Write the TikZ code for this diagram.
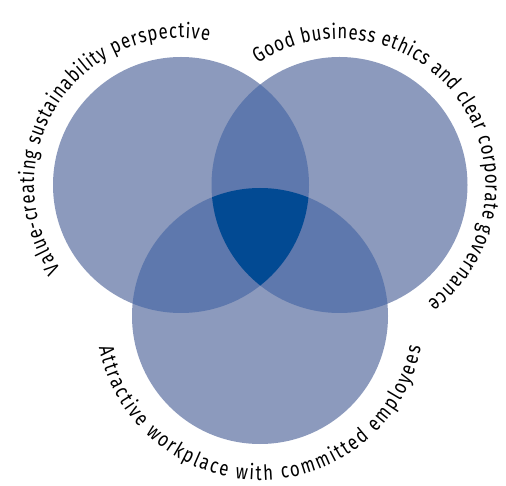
\documentclass[tikz,border=0pt]{standalone}
\usepackage{fontspec}
\setmainfont[FakeStretch=0.8]{Fira Sans}
\usepackage{tikz}
\usetikzlibrary{decorations.text}

\definecolor{ring}{RGB}{140,154,189}
\definecolor{pair}{RGB}{94,120,173}
\definecolor{core}{RGB}{2,74,147}

\begin{document}
\begin{tikzpicture}[x=1pt,y=1pt,
        arc text/.style={decorate,decoration={text along path,text align=fit to path,
            text={|\fontsize{21}{21}\selectfont|#1}}}]
    \useasboundingbox (0,0) rectangle (506,485);
    \coordinate (value) at (181,300);
    \coordinate (ethics) at (339.5,300);
    \coordinate (staff) at (260,169);

    % circles
    \fill[ring] (value) circle (128pt) (ethics) circle (128pt) (staff) circle (128pt);
    \begin{scope}
        \clip (value) circle (128pt);
        \fill[pair] (ethics) circle (128pt) (staff) circle (128pt);
    \end{scope}
    \begin{scope}
        \clip (ethics) circle (128pt);
        \fill[pair] (staff) circle (128pt);
    \end{scope}
    \begin{scope}
        \clip (value) circle (128pt);
        \clip (ethics) circle (128pt);
        \fill[core] (staff) circle (128pt);
    \end{scope}

    % labels
    \path[arc text={Value-creating sustainability perspective},shift={(value)}]
        (215:147pt) arc[start angle=215,end angle=79,radius=147pt];
    \path[arc text={Good business ethics and clear corporate governance},shift={(ethics)}]
        (124:146pt) arc[start angle=124,end angle=-53,radius=146pt];
    \path[arc text={Attractive workplace with committed employees},shift={(staff)}]
        (191:164pt) arc[start angle=191,end angle=349,radius=164pt];
\end{tikzpicture}
\end{document}
